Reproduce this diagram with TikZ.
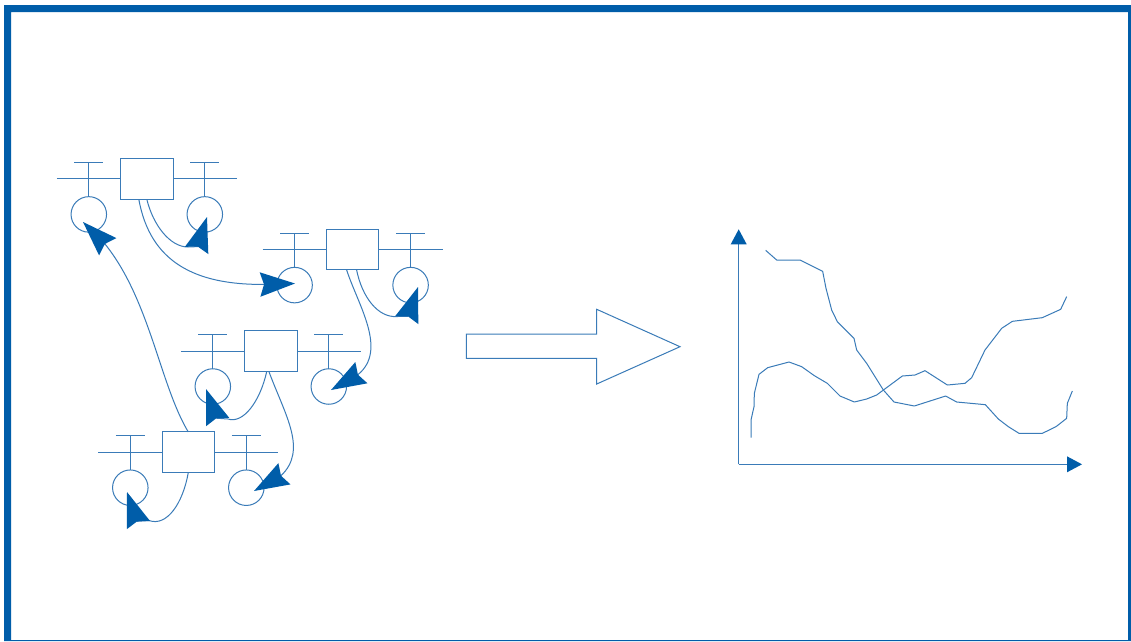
\documentclass[tikz,border=0pt]{standalone}
\usetikzlibrary{arrows.meta,calc}
\definecolor{sblue}{HTML}{005DA9}
\definecolor{sline}{HTML}{3A7BB8}
\tikzset{
  x=1pt,y=-1pt,
  thin line/.style={draw=sline,line width=1pt},
  unitbox/.style={thin line,fill=white,rectangle,minimum width=52.5pt,minimum height=40.5pt,inner sep=0pt,outer sep=0pt},
  unitdisc/.style={thin line,circle,minimum size=35.5pt,inner sep=0pt,outer sep=0pt},
  conn/.style={thin line,-{Stealth[length=35pt,width=24.5pt,inset=4pt,sep=0pt,fill=sblue,line width=0pt]},line join=round},
  axis/.style={thin line,-{Triangle[length=15pt,width=16pt,fill=sblue,line width=0pt]}},
  pics/unit/.style={code={
    \draw[thin line] (-90,0) -- (90,0);
    \node[unitbox] (-box) at (0,0) {};
    \node[unitdisc] (-cl) at (-58,35.5) {};
    \node[unitdisc] (-cr) at (58,35.5) {};
    \coordinate (-tl) at (-58,-16.5);
    \coordinate (-tr) at (58,-16.5);
    \draw[thin line] (-tl) -- (-cl.north);
    \draw[thin line] (-tr) -- (-cr.north);
    \draw[thin line] ([xshift=-14.5pt]-tl) -- ([xshift=14.5pt]-tl);
    \draw[thin line] ([xshift=-14.5pt]-tr) -- ([xshift=14.5pt]-tr);
  }},
}
\begin{document}
\begin{tikzpicture}
\useasboundingbox (0,0) rectangle (1131,641);
\fill[white] (0,0) rectangle (1131,641);
% frame
\fill[sblue,even odd rule] (4,5) rectangle (1131,641) (11,12) rectangle (1128,640);

% units
\pic (a) at (146.8,178.9) {unit};
\pic (b) at (352.6,249.6) {unit};
\pic (c) at (270.8,351) {unit};
\pic (d) at (188.3,452.2) {unit};

% arrow tips, the points where each head is turned, and where the curve meets the head
\coordinate (ta) at (83,222);     \coordinate (va) at (105,244);
\coordinate (tb) at (207,217);    \coordinate (vb) at (197.8,246.6);  \coordinate (wb) at (188,247);
\coordinate (tc) at (295,283.5);  \coordinate (vc) at (264,284.4);
\coordinate (td) at (418,287);    \coordinate (vd) at (408,316.4);    \coordinate (wd) at (397,316.5);
\coordinate (te) at (331,390);    \coordinate (ve) at (358,374.6);
\coordinate (tf) at (206,389);    \coordinate (vf) at (216.4,418.2);  \coordinate (wf) at (228,419);
\coordinate (tg) at (254,491);    \coordinate (vg) at (281,475.7);
\coordinate (th) at (127,492);    \coordinate (vh) at (137.2,521.3);  \coordinate (wh) at (149,520.5);

% connectors
\draw[conn] (d-box.north) .. controls (160,385) and (150,300) .. (va) -- (ta);
\draw[conn] (a-box.south) .. controls (153,225) and (170,247) .. (wb) -- (vb) -- (tb);
\draw[conn] ([xshift=-8pt]a-box.south) .. controls (150,262) and (195,285) .. (vc) -- (tc);
\draw[conn] ([xshift=4pt]b-box.south) .. controls (362,297) and (378,318) .. (wd) -- (vd) -- (td);
\draw[conn] ([xshift=-6pt]b-box.south) .. controls (358,305) and (388,350) .. (ve) -- (te);
\draw[conn] ([xshift=-4pt]c-box.south) .. controls (260,402) and (243,424) .. (wf) -- (vf) -- (tf);
\draw[conn] ([xshift=-2pt]c-box.south) .. controls (285,415) and (308,450) .. (vg) -- (tg);
\draw[conn] (d-box.south) .. controls (183,503) and (167,527) .. (wh) -- (vh) -- (th);

% block arrow
\draw[thin line,line join=miter] (466.3,334) -- (596.7,334) -- (596.7,309.3) -- (680,346.7)
  -- (596.7,384) -- (596.7,358.3) -- (466.3,358.3) -- cycle;

% axes
\coordinate (orig) at (738.7,464.3);
\coordinate (ytip) at (738.7,229.3);
\coordinate (xtip) at (1082,464.3);
\draw[axis] (orig) -- (ytip);
\draw[axis] (orig) -- (xtip);

% curves (traced in 3x units)
\begin{scope}[shift={(720,220)},x=0.33333pt,y=-0.33333pt]
\draw[thin line,line join=round] (137,91) -- (170,120) -- (240,120) -- (308,154) -- (318,205) -- (335,270) -- (352,305) -- (402,355) -- (410,390) -- (440,430) -- (490,510) -- (522,546) -- (583,558) -- (677,528) -- (710,546) -- (796,554) -- (835,597) -- (865,620) -- (897,640) -- (967,640) -- (1008,620) -- (1040,595) -- (1042,550) -- (1057,513);
\draw[thin line,line join=round] (93,653) -- (93,600) -- (102,560) -- (103,520) -- (117,463) -- (143,443) -- (207,426) -- (245,440) -- (283,467) -- (322,490) -- (360,528) -- (403,546) -- (440,537) -- (470,525) -- (547,468) -- (585,465) -- (615,452) -- (682,495) -- (735,490) -- (755,473) -- (795,390) -- (845,325) -- (877,304) -- (967,293) -- (1022,268) -- (1040,230);
\end{scope}
\end{tikzpicture}
\end{document}
